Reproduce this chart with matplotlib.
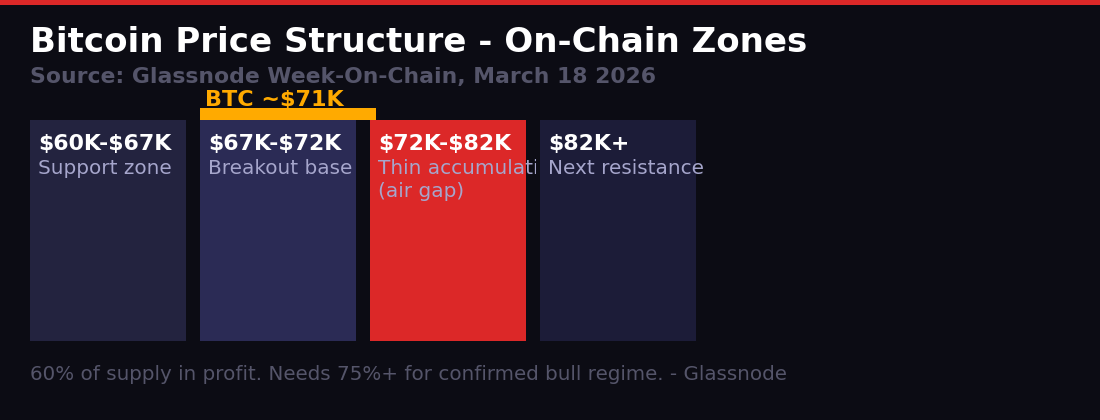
"""Bitcoin price structure - on-chain zones (Glassnode Week-On-Chain)."""
import matplotlib
matplotlib.use("Agg")
import matplotlib.pyplot as plt
from matplotlib.patches import Rectangle
from matplotlib.transforms import Bbox, TransformedBbox

plt.rcParams["font.family"] = ["DejaVu Sans"]
plt.rcParams["text.parse_math"] = False

# data
ZONES = ["$60K-$67K", "$67K-$72K", "$72K-$82K", "$82K+"]
DESCS = ["Support zone", "Breakout base", "Thin accumulation\n(air gap)", "Next resistance"]
ZONE_COLORS = ["#23233f", "#2b2b55", "#dc2828", "#1c1c38"]
CURRENT_ZONE = 1
CURRENT_LABEL = "BTC ~$71K"

TITLE = "Bitcoin Price Structure - On-Chain Zones"
SUBTITLE = "Source: Glassnode Week-On-Chain, March 18 2026"
FOOTER = "60% of supply in profit. Needs 75%+ for confirmed bull regime. - Glassnode"

BG = "#0c0c14"
W, H = 1100, 420

fig = plt.figure(figsize=(W / 100, H / 100), dpi=100, facecolor=BG)
ax = fig.add_axes([0, 0, 1, 1])
ax.set_xlim(0, W)
ax.set_ylim(H, 0)
ax.axis("off")
ax.set_facecolor(BG)

# top stripe
ax.add_patch(Rectangle((0, 0), W, 5, color="#dc2828", lw=0))

ax.text(30, 52, TITLE, color="white", fontsize=24.5, fontweight="bold", va="baseline")
ax.text(30, 83, SUBTITLE, color="#55556a", fontsize=15.75, fontweight="bold", va="baseline")

box_w, gap, top, bot = 156, 14, 120, 341
lefts = [30 + i * (box_w + gap) for i in range(len(ZONES))]
ax.bar(lefts, [bot - top] * len(ZONES), width=box_w, bottom=top, align="edge",
       color=ZONE_COLORS, lw=0)

for i, (x0, zone, desc) in enumerate(zip(lefts, ZONES, DESCS)):
    ax.text(x0 + 8, 150, zone, color="white", fontsize=15.8, fontweight="bold", va="baseline")
    # descriptions overflow to the right and get cut just before the next box
    clip = TransformedBbox(Bbox.from_extents(x0, top, x0 + box_w + 10, bot), ax.transData)
    for j, line in enumerate(desc.split("\n")):
        t = ax.text(x0 + 8, 174 + 23 * j, line, color="#a6a6cc", fontsize=14.4,
                    va="baseline", zorder=1)
        t.set_clip_box(clip)
        t.set_clip_on(True)

# current price marker
cx = lefts[CURRENT_ZONE]
ax.add_patch(Rectangle((cx, 108), box_w + 20, 12, color="#ffaa00", lw=0, zorder=3))
ax.text(cx + 5, 106, CURRENT_LABEL, color="#ffaa00", fontsize=16, fontweight="bold",
        va="baseline")

ax.text(30, 380, FOOTER, color="#55556a", fontsize=14.35, va="baseline")

fig.savefig("out.png", dpi=100, facecolor=BG)
